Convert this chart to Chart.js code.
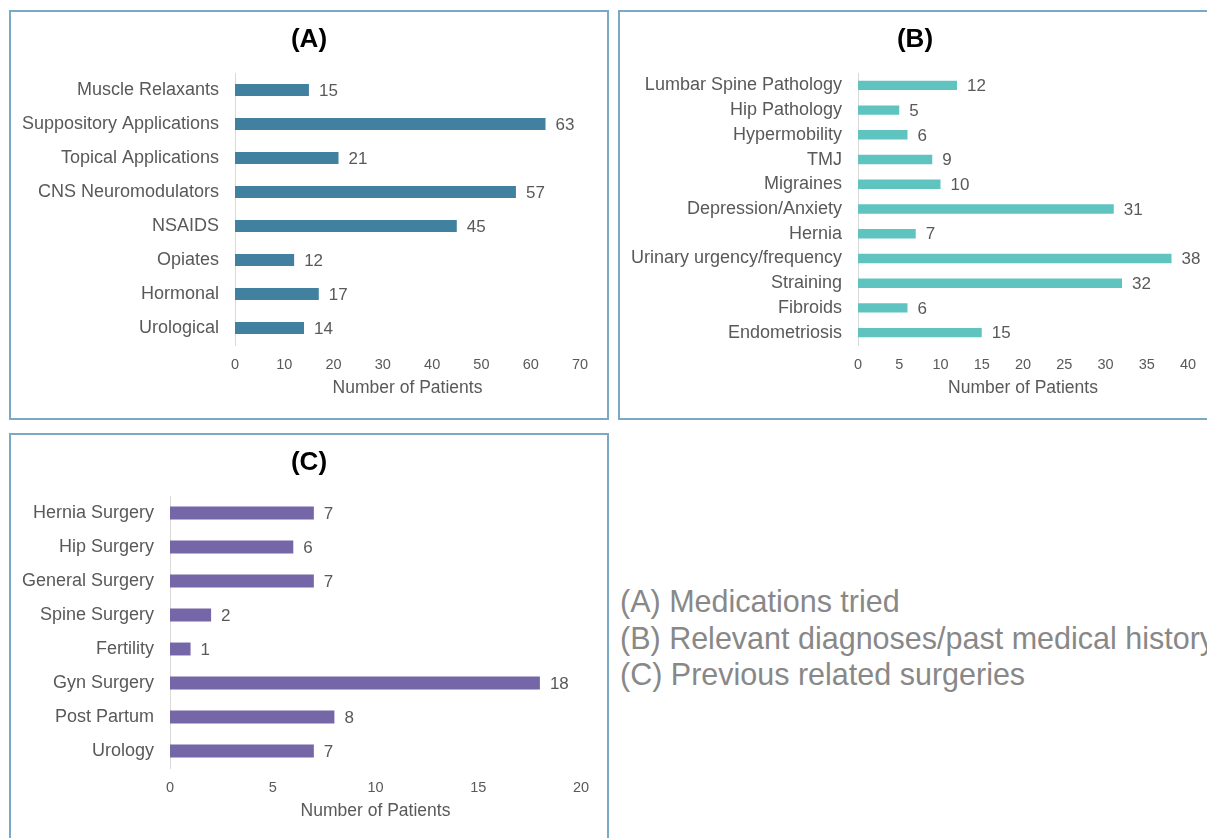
<!DOCTYPE html>
<html>
<head>
<meta charset="utf-8">
<script src="https://cdn.jsdelivr.net/npm/chart.js@4.4.1/dist/chart.umd.min.js"></script>
<style>
  html, body { margin: 0; padding: 0; background: #fff; overflow: hidden; width: 1207px; height: 838px; }
  .panel { position: absolute; border: 2px solid #7aa9c6; box-sizing: border-box; background: #fff; }
  .panel canvas { position: absolute; left: 0; top: 0; }
  #notes { position: absolute; left: 620px; top: 583px; font-family: "Liberation Sans", Arial, sans-serif;
           font-size: 30.5px; line-height: 36.5px; color: #888888; white-space: nowrap; }
</style>
</head>
<body>
<div class="panel" style="left:9px; top:10px; width:600px; height:410px;"><canvas id="chartA" width="596" height="406"></canvas></div>
<div class="panel" style="left:618px; top:10px; width:594px; height:410px;"><canvas id="chartB" width="590" height="406"></canvas></div>
<div class="panel" style="left:9px; top:433px; width:600px; height:410px;"><canvas id="chartC" width="596" height="406"></canvas></div>
<div id="notes">
  <div>(A) Medications tried</div>
  <div>(B) Relevant diagnoses/past medical history</div>
  <div>(C) Previous related surgeries</div>
</div>
<script>
// (A) medications tried
const medsLabels = ['Muscle Relaxants', 'Suppository Applications', 'Topical Applications', 'CNS Neuromodulators', 'NSAIDS', 'Opiates', 'Hormonal', 'Urological'];
const medsValues = [15, 63, 21, 57, 45, 12, 17, 14];

// (B) diagnoses / past medical history
const dxLabels = ['Lumbar Spine Pathology', 'Hip Pathology', 'Hypermobility', 'TMJ', 'Migraines', 'Depression/Anxiety', 'Hernia', 'Urinary urgency/frequency', 'Straining', 'Fibroids', 'Endometriosis'];
const dxValues = [12, 5, 6, 9, 10, 31, 7, 38, 32, 6, 15];

// (C) previous surgeries
const surgLabels = ['Hernia Surgery', 'Hip Surgery', 'General Surgery', 'Spine Surgery', 'Fertility', 'Gyn Surgery', 'Post Partum', 'Urology'];
const surgValues = [7, 6, 7, 2, 1, 18, 8, 7];

const FONT = '"Liberation Sans", Arial, sans-serif';
const GREY = '#595959';

// value labels at the end of each bar
const valueLabels = {
  id: 'valueLabels',
  afterDatasetsDraw(chart) {
    const ctx = chart.ctx;
    const meta = chart.getDatasetMeta(0);
    const data = chart.data.datasets[0].data;
    ctx.save();
    ctx.font = '17px ' + FONT;
    ctx.fillStyle = GREY;
    ctx.textBaseline = 'middle';
    ctx.textAlign = 'left';
    meta.data.forEach((bar, i) => {
      ctx.fillText(String(data[i]), bar.x + 10, bar.y + 1);
    });
    ctx.restore();
  }
};

function makeChart(id, title, labels, values, color, opts) {
  return new Chart(document.getElementById(id), {
    type: 'bar',
    data: {
      labels: labels,
      datasets: [{
        data: values,
        backgroundColor: color,
        barPercentage: opts.barPct,
        categoryPercentage: 1
      }]
    },
    options: {
      responsive: false,
      animation: false,
      indexAxis: 'y',
      layout: { padding: 0 },
      scales: {
        x: {
          min: 0,
          max: opts.max,
          ticks: { stepSize: opts.step, color: GREY, font: { family: FONT, size: 14.5 }, padding: 11 },
          grid: { display: false, drawTicks: false },
          border: { display: false },
          title: { display: true, text: 'Number of Patients', color: GREY, font: { family: FONT, size: 17.5 }, padding: { top: 0, bottom: 19 } },
          afterFit(scale) { scale.height = 73; scale.paddingRight = opts.padRight; }
        },
        y: {
          ticks: { color: GREY, font: { family: FONT, size: 18 }, padding: 16, autoSkip: false },
          grid: { display: false, drawTicks: false },
          border: { display: true, color: '#d9d9d9', width: 1 },
          afterFit(scale) { scale.width = opts.axisWidth; }
        }
      },
      plugins: {
        legend: { display: false },
        tooltip: { enabled: false },
        title: {
          display: true,
          text: title,
          color: '#000',
          font: { family: FONT, size: 26, weight: 'bold' },
          padding: { top: 12.4, bottom: 17.4 }
        }
      }
    },
    plugins: [valueLabels]
  });
}

makeChart('chartA', '(A)', medsLabels, medsValues, '#41809f', { max: 70, step: 10, barPct: 0.36, padRight: 27, axisWidth: 224 });
makeChart('chartB', '(B)', dxLabels, dxValues, '#5fc4c0', { max: 40, step: 5, barPct: 0.38, padRight: 22, axisWidth: 238 });
makeChart('chartC', '(C)', surgLabels, surgValues, '#7566a8', { max: 20, step: 5, barPct: 0.38, padRight: 26, axisWidth: 159 });
</script>
</body>
</html>
